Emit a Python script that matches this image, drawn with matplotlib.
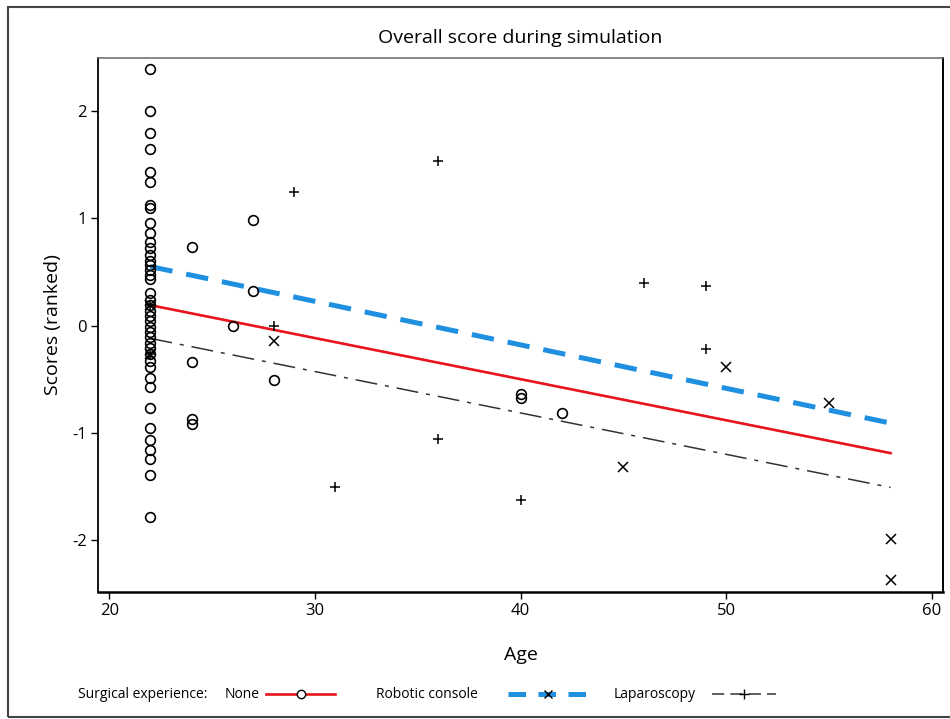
import matplotlib
matplotlib.use("Agg")
import matplotlib.pyplot as plt
from matplotlib.lines import Line2D
from matplotlib.patches import Rectangle

plt.rcParams['font.family'] = ['Open Sans', 'DejaVu Sans']
plt.rcParams['axes.unicode_minus'] = False

# Data
# None (circles)
none_age = [22] * 41 + [24, 24, 24, 24, 26, 27, 27, 28, 40, 40, 42]
none_score = [2.39, 2.0, 1.80, 1.65, 1.43, 1.34, 1.12, 1.10, 0.96, 0.86, 0.78,
              0.72, 0.66, 0.60, 0.56, 0.52, 0.47, 0.43, 0.30, 0.24, 0.19, 0.14,
              0.09, 0.04, -0.01, -0.06, -0.11, -0.16, -0.21, -0.27, -0.33,
              -0.39, -0.49, -0.57, -0.77, -0.96, -1.07, -1.16, -1.24, -1.39, -1.79,
              0.73, -0.34, -0.87, -0.92, 0.0, 0.98, 0.32, -0.51, -0.64, -0.68, -0.82]

# Robotic console (x)
robot_age = [22, 22, 28, 45, 50, 55, 58, 58]
robot_score = [0.19, -0.27, -0.14, -1.32, -0.39, -0.72, -1.99, -2.37]

# Laparoscopy (+)
lap_age = [22, 22, 28, 29, 31, 36, 36, 40, 46, 49, 49]
lap_score = [0.19, -0.27, 0.0, 1.25, -1.51, 1.53, -1.06, -1.63, 0.40, 0.37, -0.22]

# fitted lines (endpoints)
fit_age = [22, 58]
none_fit = [0.19, -1.19]
robot_fit = [0.55, -0.91]
lap_fit = [-0.12, -1.51]

red = '#e8141c'
blue = '#1f8fe0'
dark = '#333333'
blue_dash = (4.5, 2.8)
lap_dash = (14.4, 5.2, 2.6, 5.2)

W, H = 950, 719
fig = plt.figure(figsize=(9.5, 7.19), dpi=100)
ax = fig.add_axes([98 / W, 1 - 592 / H, 845 / W, 534 / H])

ax.plot(fit_age, robot_fit, color=blue, lw=3.6, dashes=blue_dash, zorder=2)
ax.plot(fit_age, none_fit, color=red, lw=1.9, zorder=3)
ax.plot(fit_age, lap_fit, color=dark, lw=1.1, dashes=lap_dash, zorder=3)

ax.plot(none_age, none_score, 'o', ms=7, mfc='none', mec='black', mew=1.2, zorder=4)
ax.plot(robot_age, robot_score, 'x', ms=7, color='black', mew=1.1, zorder=4)
ax.plot(lap_age, lap_score, '+', ms=7, color='black', mew=1.1, zorder=4)

ax.set_xlim(19.45, 60.55)
ax.set_ylim(-2.485, 2.495)
ax.set_xticks([20, 30, 40, 50, 60])
ax.set_yticks([2, 1, 0, -1, -2])
ax.set_yticklabels(['2', '1', '0', '-1', '-2'])
ax.tick_params(labelsize=12, length=5, width=1, direction='out', pad=3)
ax.spines['left'].set_linewidth(1.3)
ax.spines['bottom'].set_linewidth(1.8)
ax.spines['top'].set_linewidth(1.1)
ax.spines['top'].set_color('#666666')
ax.spines['right'].set_linewidth(1.4)

ax.set_title('Overall score during simulation', fontsize=14, pad=11)
ax.set_xlabel('Age', fontsize=14, labelpad=19)
ax.set_ylabel('Scores (ranked)', fontsize=14, labelpad=7)

# legend along the bottom, label before its line
ly = 1 - 694 / H
fs = 10
fig.text(78 / W, ly, 'Surgical experience:', fontsize=fs, va='center')
legend_items = [
    ('None', 225, 266, 335, dict(color=red, lw=1.9, marker='o', mfc='white',
                                 mec='black', ms=6)),
    ('Robotic console', 376, 508, 588, dict(color=blue, lw=3.6, dashes=(3.5, 2.5),
                                            marker='x', mec='black', ms=6)),
    ('Laparoscopy', 614, 712, 776, dict(color=dark, lw=1.1, dashes=(8, 4),
                                        marker='+', mec='black', ms=7)),
]
for label, tx, x0, x1, style in legend_items:
    fig.text(tx / W, ly, label, fontsize=fs, va='center')
    fig.add_artist(Line2D([x0 / W, (x0 + x1) / 2 / W, x1 / W], [ly, ly, ly],
                          transform=fig.transFigure, markevery=[1], **style))

# outer border
fig.patches.append(Rectangle((8 / W, 1 - 717 / H), 1.0, 710 / H,
                             transform=fig.transFigure, fill=False,
                             edgecolor='#444444', lw=1.5))

fig.savefig('out.png', dpi=100)
